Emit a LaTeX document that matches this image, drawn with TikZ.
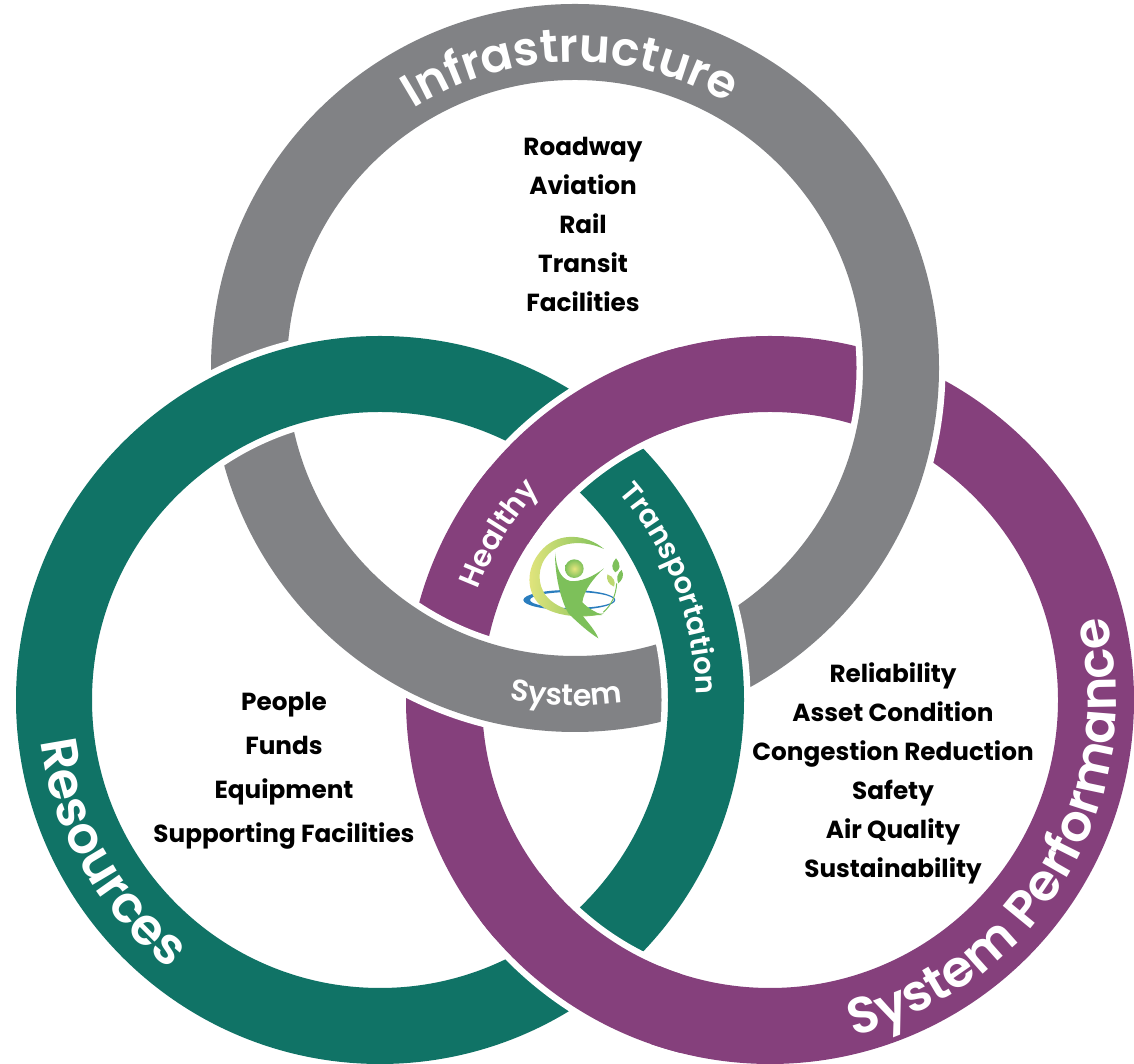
\documentclass[tikz,border=0pt]{standalone}
\usepackage{fontspec}
\setmainfont{Poppins}
\newfontfamily\ringfamily{Poppins SemiBold}
\usetikzlibrary{decorations.text}
\definecolor{ringGray}{HTML}{818285}
\definecolor{ringGreen}{HTML}{107366}
\definecolor{ringPurple}{HTML}{85407C}
\definecolor{logoGreen}{HTML}{7DC05A}
\definecolor{logoLime}{HTML}{E6E67E}
\definecolor{logoBlue}{HTML}{2A7DBE}
\newcommand{\ringfont}[1]{\fontsize{#1}{#1}\selectfont\ringfamily\color{white}}
\tikzset{%
  % Specifications for style of rings and texts:
        halo/.style = {draw=white, line width=89pt},
        ring/.style = {line width=76pt},
    listitem/.style = {font=\fontsize{24.7}{30}\selectfont\bfseries, text=black,
                       inner sep=0pt, text height=18pt, text depth=5pt, text centered},
    ringtext/.style 2 args = {decorate, decoration={text along path, text align=center,
                       text={|\ringfont{#1}|#2}}},
}

\begin{document}
\begin{tikzpicture}[x=1pt, y=1pt]
\useasboundingbox (0,0) rectangle (1134,1064);

\coordinate (grayC)   at (575,696);
\coordinate (greenC)  at (380,364);
\coordinate (purpleC) at (770,364);

% rings, each one over the next
\draw[ring, draw=ringPurple] (purpleC) circle (326);
\draw[halo]                  (grayC) circle (326);
\draw[ring, draw=ringGray]   (grayC) circle (326);
\draw[halo]                  (greenC) circle (326);
\draw[ring, draw=ringGreen]  (greenC) circle (326);

% purple goes back over green at both crossings
\begin{scope}
  \clip (490,540) rectangle (660,730);
  \draw[halo] (purpleC) circle (326);
\end{scope}
\begin{scope}
  \clip (470,520) rectangle (680,750);
  \draw[ring, draw=ringPurple] (purpleC) circle (326);
\end{scope}
\begin{scope}
  \clip (495,20) rectangle (660,175);
  \draw[halo] (purpleC) circle (326);
\end{scope}
\begin{scope}
  \clip (480,0) rectangle (680,190);
  \draw[ring, draw=ringPurple] (purpleC) circle (326);
\end{scope}

% texts on the rings
\path[ringtext={47}{Infrastructure}] ([shift={(140:306)}]grayC) arc[start angle=140, end angle=42, radius=306];
\path[ringtext={51}{Resources}] ([shift={(171:342)}]greenC) arc[start angle=171, end angle=248, radius=342];
\path[ringtext={51}{System Performance}] ([shift={(-90:346)}]purpleC) arc[start angle=-90, end angle=28, radius=346];
\path[ringtext={30}{Healthy}] ([shift={(165:312)}]purpleC) arc[start angle=165, end angle=132, radius=312];
\path[ringtext={29}{Transportation}] ([shift={(48:316)}]greenC) arc[start angle=48, end angle=-6, radius=316];
\path[ringtext={30}{System}] ([shift={(-104:338)}]grayC) arc[start angle=-104, end angle=-79, radius=338];

% lists
\node (Roadway)    [listitem] at (583,915) {Roadway};
\node (Aviation)   [listitem, below of=Roadway, node distance=39pt]  {Aviation};
\node (Rail)       [listitem, below of=Aviation, node distance=39pt] {Rail};
\node (Transit)    [listitem, below of=Rail, node distance=39pt]     {Transit};
\node (Facilities) [listitem, below of=Transit, node distance=39pt]  {Facilities};

\node (People)    [listitem] at (284,360) {People};
\node (Funds)     [listitem, below of=People, node distance=44pt]    {Funds};
\node (Equipment) [listitem, below of=Funds, node distance=44pt]     {Equipment};
\node (Support)   [listitem, below of=Equipment, node distance=44pt] {Supporting Facilities};

\node (Reliability) [listitem] at (893,388) {Reliability};
\node (Asset)       [listitem, below of=Reliability, node distance=39pt] {Asset Condition};
\node (Congestion)  [listitem, below of=Asset, node distance=39pt]       {Congestion Reduction};
\node (Safety)      [listitem, below of=Congestion, node distance=39.4pt]  {Safety};
\node (Air)         [listitem, below of=Safety, node distance=39pt]      {Air Quality};
\node (Sustain)     [listitem, below of=Air, node distance=39pt]         {Sustainability};

% logo in the middle
\begin{scope}[shift={(510,539)}, x=0.3333pt, y=-0.3333pt]
  \fill[logoBlue, even odd rule] (178,225) ellipse (138 and 30) (186,225) ellipse (126 and 24);
  \shade[left color=logoLime, middle color=logoGreen, right color=logoGreen]
    (282,72) .. controls (230,28) and (150,20) .. (100,70)
    .. controls (50,120) and (45,190) .. (85,235)
    .. controls (120,272) and (220,285) .. (282,265)
    .. controls (220,272) and (130,255) .. (100,200)
    .. controls (78,160) and (88,105) .. (130,75)
    .. controls (170,48) and (230,48) .. cycle;
  \fill[logoGreen] (135,82) .. controls (140,130) and (150,160) .. (180,168)
    .. controls (210,172) and (250,155) .. (282,130)
    .. controls (250,160) and (222,195) .. (217,232)
    .. controls (235,250) and (255,262) .. (278,270)
    -- (218,272) .. controls (235,295) and (255,315) .. (265,340)
    .. controls (240,325) and (205,295) .. (175,265)
    .. controls (150,220) and (135,150) .. cycle;
  \shade[inner color=logoLime, outer color=logoGreen] (193,131) circle (28);
  \fill[logoGreen] (318,100) .. controls (335,120) and (330,135) .. (316,142) .. controls (302,130) and (305,115) .. cycle;
  \fill[logoGreen] (335,135) .. controls (345,150) and (335,168) .. (325,175) .. controls (318,160) and (322,145) .. cycle;
  \fill[logoLime!60!logoGreen] (292,148) .. controls (312,155) and (318,172) .. (312,185) .. controls (296,178) and (288,165) .. cycle;
  \draw[logoGreen, line width=1pt] (320,175) .. controls (318,210) and (305,240) .. (280,262);
\end{scope}
\end{tikzpicture}
\end{document}
